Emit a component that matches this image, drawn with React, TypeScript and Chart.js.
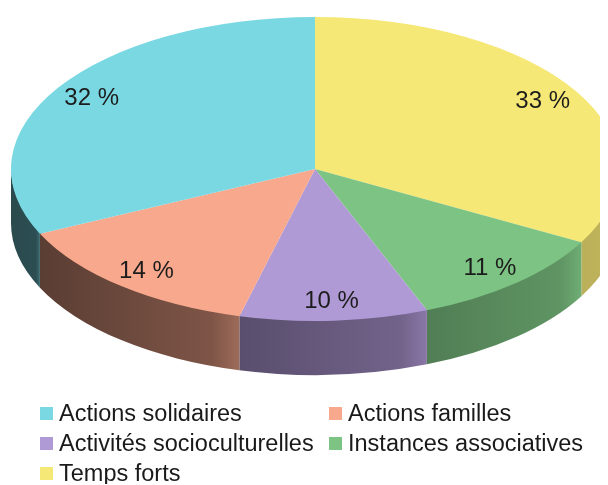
import React, { useEffect, useRef } from 'react';
import { Chart, registerables } from 'chart.js';

Chart.register(...registerables);

// ---- data (legend order) ----
const categories = [
  'Actions solidaires',
  'Actions familles',
  'Activités socioculturelles',
  'Instances associatives',
  'Temps forts',
];
const shares = [32, 14, 10, 11, 33];
const colors = ['#7ad8e2', '#f8a88c', '#b09ad6', '#7dc383', '#f6e876'];

// ---- presentation ----
const FLAT = 0.5; // vertical squash of the pie (tilt)
const DEPTH = 54; // thickness of the 3D wall
const LABEL_POS = 0.87;

function hexToRgb(hex: string) {
  const h = hex.replace('#', '');
  return [0, 2, 4].map((i) => parseInt(h.slice(i, i + 2), 16));
}
function shade(hex: string, f: number) {
  const [r, g, b] = hexToRgb(hex);
  const c = (v: number) => Math.max(0, Math.min(255, Math.round(v * f)));
  return `rgb(${c(r)},${c(g)},${c(b)})`;
}
function light(x: number) {
  return 0.34 + 0.44 * Math.max(0, Math.min(1, (x - 10) / 600));
}

const pie3d = {
  id: 'pie3d',
  beforeDatasetsDraw(chart: any) {
    const ctx = chart.ctx as CanvasRenderingContext2D;
    const meta = chart.getDatasetMeta(0);
    const bg = chart.data.datasets[0].backgroundColor as string[];
    ctx.save();
    meta.data.forEach((el: any, i: number) => {
      const { x, y, startAngle, endAngle, outerRadius } = el;
      const a = Math.max(startAngle, 0);
      const b = Math.min(endAngle, Math.PI);
      if (b <= a) return;
      const ry = outerRadius * FLAT;
      const xr = x + outerRadius * Math.cos(a);
      const xl = x + outerRadius * Math.cos(b);
      const g = ctx.createLinearGradient(xl, 0, xr, 0);
      g.addColorStop(0, shade(bg[i], light(xl)));
      g.addColorStop(0.86, shade(bg[i], light(xr)));
      g.addColorStop(1, shade(bg[i], light(xr) + 0.13));
      ctx.beginPath();
      ctx.ellipse(x, y - 2, outerRadius, ry, 0, a, b, false);
      ctx.ellipse(x, y + DEPTH, outerRadius, ry, 0, b, a, true);
      ctx.closePath();
      ctx.fillStyle = g;
      ctx.fill();
    });
    ctx.restore();
    const el0 = meta.data[0];
    ctx.save();
    ctx.translate(el0.x, el0.y);
    ctx.scale(1, FLAT);
    ctx.translate(-el0.x, -el0.y);
  },
  afterDatasetsDraw(chart: any) {
    const ctx = chart.ctx as CanvasRenderingContext2D;
    ctx.restore();
    const meta = chart.getDatasetMeta(0);
    const values = chart.data.datasets[0].data as number[];
    ctx.save();
    ctx.font = '24px "Liberation Sans", Arial, sans-serif';
    ctx.fillStyle = '#1c1c1c';
    ctx.textAlign = 'center';
    ctx.textBaseline = 'middle';
    meta.data.forEach((el: any, i: number) => {
      const mid = (el.startAngle + el.endAngle) / 2;
      const lx = el.x + LABEL_POS * el.outerRadius * Math.cos(mid);
      const ly = el.y + LABEL_POS * el.outerRadius * FLAT * Math.sin(mid);
      ctx.fillText(`${values[i]} %`, lx, ly);
    });
    ctx.restore();
  },
};

export default function App() {
  const ref = useRef<HTMLCanvasElement | null>(null);

  useEffect(() => {
    if (!ref.current) return;
    // drawn clockwise from the top: reverse the legend order
    const chart = new Chart(ref.current, {
      type: 'pie',
      data: {
        labels: [...categories].reverse(),
        datasets: [
          {
            data: [...shares].reverse(),
            backgroundColor: [...colors].reverse(),
            borderWidth: 0,
            radius: 304,
            clip: false,
          } as any,
        ],
      },
      options: {
        responsive: false,
        animation: false,
        events: [],
        layout: { padding: { left: 22, right: 0, top: 0, bottom: 64 } },
        plugins: { legend: { display: false }, tooltip: { enabled: false } },
      },
      plugins: [pie3d as any],
    });
    return () => chart.destroy();
  }, []);

  return (
    <div style={{ margin: '-8px -8px 0 -8px', background: '#fff' }}>
      <canvas ref={ref} width={608} height={402} style={{ display: 'block' }} />
      <div
        style={{
          paddingLeft: 40,
          display: 'grid',
          gridTemplateColumns: '289px auto',
          gridAutoRows: '22px',
          rowGap: 8,
          fontFamily: '"Liberation Sans", Arial, sans-serif',
          fontSize: 23.5,
          lineHeight: '22px',
          color: '#1a1a1a',
        }}
      >
        {categories.map((c, i) => (
          <div key={c} style={{ display: 'flex', alignItems: 'center', whiteSpace: 'nowrap', height: 22 }}>
            <span
              style={{ width: 13, height: 13, background: colors[i], marginRight: 6, flex: 'none' }}
            />
            {c}
          </div>
        ))}
      </div>
    </div>
  );
}
